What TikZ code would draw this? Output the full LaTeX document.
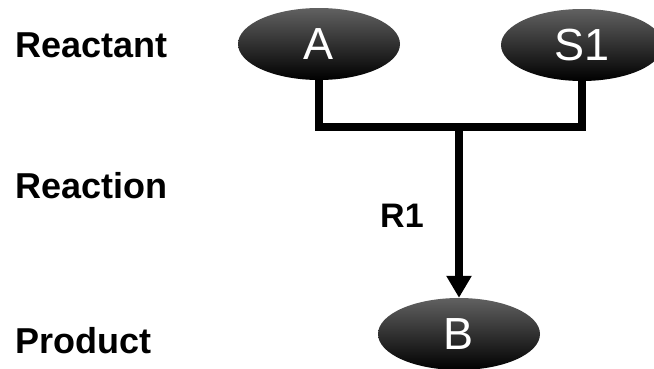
\documentclass[tikz,border=0pt]{standalone}
\usepackage{fontspec}
\setmainfont{Liberation Sans}
\usetikzlibrary{arrows.meta, shapes.geometric}

\begin{document}
\begin{tikzpicture}[x=1pt, y=1pt,
    species/.style={ellipse, inner sep=0pt, minimum width=162pt, minimum height=72pt,
        top color=black!62, middle color=black, bottom color=black, text=white,
        font=\fontsize{45}{54}\selectfont},
    level/.style={anchor=base west, inner sep=0pt, font=\bfseries\fontsize{36}{43}\selectfont},
    link/.style={line width=8pt},
    reactarrow/.style={line width=8pt, -{Triangle[length=22pt,width=24pt]}}
]
    \useasboundingbox (0,0) rectangle (654,368);

    % Row labels
    \node[level] (lreact) at (15,311) {Reactant};
    \node[level] (lrxn) at (15,170) {Reaction};
    \node[level] (lprod) at (15,15) {Product};

    % Reactants
    \node[species] (A) at (319,324) {A};
    \node[species] (S1) at (582,323) {S1};

    % Product
    \node[species] (B) at (459,34) {B};

    % Reaction R1
    \coordinate (junc) at (459,241);
    \draw[link] (A.south) |- (junc) -| (S1.south);
    \draw[reactarrow] (junc) -- (B);
    \node[anchor=base west, inner sep=0pt, font=\bfseries\fontsize{34}{41}\selectfont] (r1) at (380,141) {R1};
\end{tikzpicture}
\end{document}
